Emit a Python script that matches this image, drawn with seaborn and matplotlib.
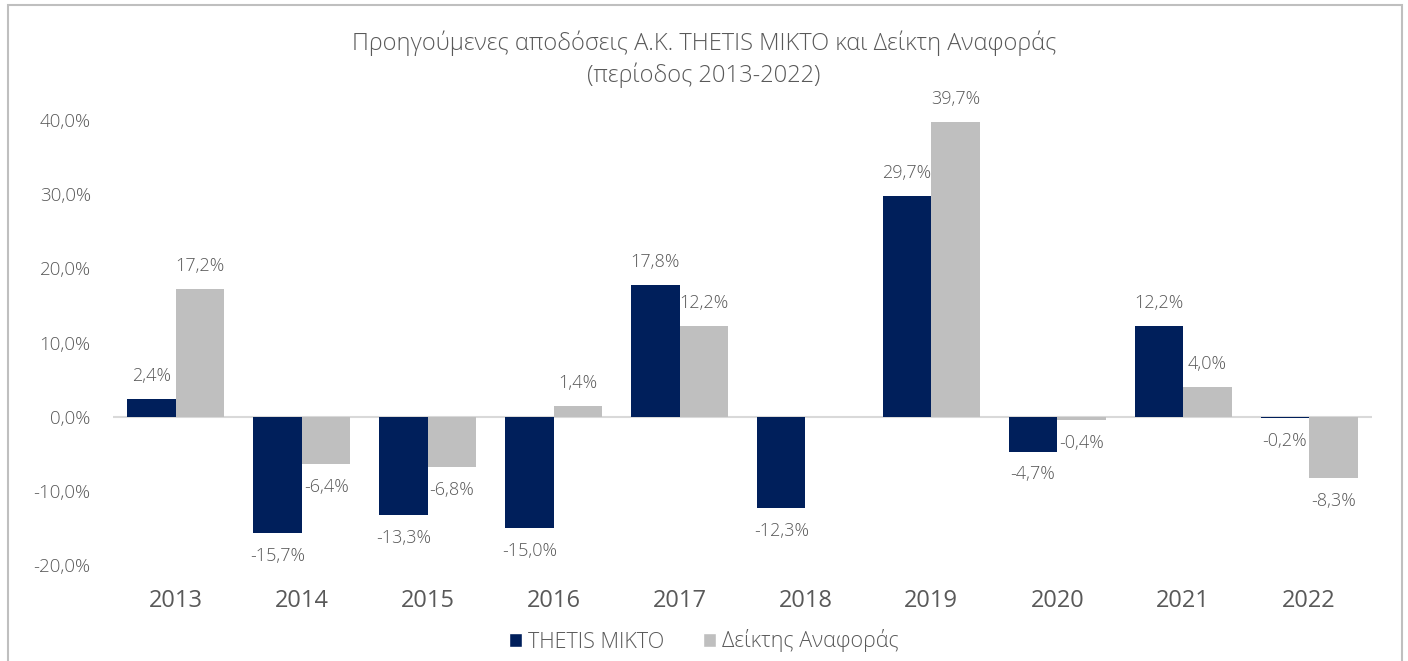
import numpy as np
import pandas as pd
import matplotlib
matplotlib.use("Agg")
import matplotlib.pyplot as plt
import seaborn as sns
from matplotlib.patches import Rectangle, Patch

# -------------------------------
# Data
# -------------------------------
years = ["2013", "2014", "2015", "2016", "2017", "2018", "2019", "2020", "2021", "2022"]
fund_name = "THETIS MIKTO"
index_name = "Δείκτης Αναφοράς"
fund_returns = [2.4, -15.7, -13.3, -15.0, 17.8, -12.3, 29.7, -4.7, 12.2, -0.2]
index_returns = [17.2, -6.4, -6.8, 1.4, 12.2, np.nan, 39.7, -0.4, 4.0, -8.3]
y_ticks = [-20, -10, 0, 10, 20, 30, 40]

df = pd.DataFrame({
    "year": years * 2,
    "series": [fund_name] * len(years) + [index_name] * len(years),
    "value": fund_returns + index_returns,
})

navy = "#001F5B"
grey = "#BFBFBF"
txt = "#595959"

sns.set_theme(style="white")
plt.rcParams["font.family"] = ["Open Sans", "DejaVu Sans"]

fig = plt.figure(figsize=(14.08, 6.61), dpi=100)
ax = fig.add_axes([113 / 1408, 1 - 565 / 661, (1372 - 113) / 1408, (565 - 120) / 661])

ax.axhline(0, color="#D9D9D9", lw=1.5, zorder=0.5)
sns.barplot(data=df, x="year", y="value", hue="series",
            palette=[navy, grey], width=0.77, saturation=1,
            linewidth=0, legend=False, ax=ax)

ax.set_ylim(-20, 40)
ax.set_xlim(-0.5, len(years) - 0.5)
ax.set_yticks(y_ticks)
ax.set_yticklabels([f"{v:.1f}%".replace(".", ",") for v in y_ticks],
                   fontsize=13.5, color=txt, fontweight="light")
ax.tick_params(axis="y", length=0, pad=16)
ax.tick_params(axis="x", length=0, pad=17, labelsize=17, labelcolor=txt)
ax.set_xlabel("")
ax.set_ylabel("")
for s in ax.spines.values():
    s.set_visible(False)

# data labels (match each bar to its year by position, 2018 index is missing)
for cont, vals in zip(ax.containers, [fund_returns, index_returns]):
    for bar in cont:
        xc = bar.get_x() + bar.get_width() / 2
        v = vals[int(round(xc))]
        if np.isnan(v):
            continue
        off = 16.5 if v >= 0 else -16.5
        ax.annotate(f"{v:.1f}%".replace(".", ","), (xc, v), xytext=(0, off),
                    textcoords="offset points", ha="center", va="center",
                    fontsize=13, color=txt, fontweight="light", annotation_clip=False)

# title
fig.text(0.5, 1 - 43 / 661, "Προηγούμενες αποδόσεις Α.Κ. THETIS MIKTO και Δείκτη Αναφοράς",
         ha="center", va="center", fontsize=17, color=txt, fontweight="light")
fig.text(0.5, 1 - 75 / 661, "(περίοδος 2013-2022)",
         ha="center", va="center", fontsize=17, color=txt, fontweight="light")

# legend
handles = [Patch(facecolor=navy, label=fund_name), Patch(facecolor=grey, label=index_name)]
leg = fig.legend(handles=handles, loc="center", bbox_to_anchor=(0.5, 1 - 641 / 661),
                 ncol=2, frameon=False, fontsize=15.5, handlelength=0.6, handleheight=0.6,
                 handletextpad=0.3, columnspacing=1.8)
for t in leg.get_texts():
    t.set_color(txt)
    t.set_fontweight("light")

# chart border
fig.patches.append(Rectangle((8 / 1408, -0.05), (1402 - 8) / 1408, 1.05 - 5 / 661,
                             transform=fig.transFigure, fill=False,
                             edgecolor="#BFBFBF", lw=1.5))

fig.savefig("out.png", dpi=100)
